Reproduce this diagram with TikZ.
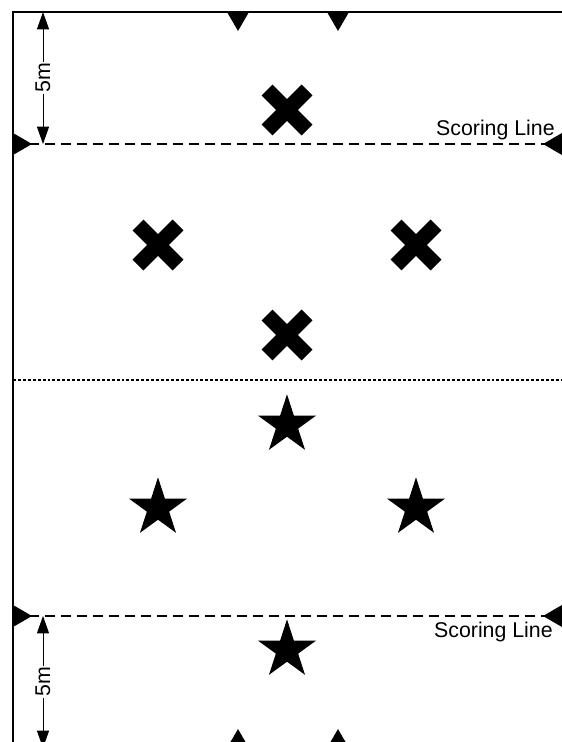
\documentclass[tikz,border=0pt]{standalone}
\usepackage{fontspec}
\setmainfont{Liberation Sans}
\usepackage{tikz}
\usetikzlibrary{positioning,arrows.meta,calc,shapes.geometric,shapes.misc}
\tikzset{
  boundary/.style={line width=2.1pt},
  scoreline/.style={line width=1.4pt,dash pattern=on 7.5pt off 4.5pt},
  halfline/.style={line width=0.9pt,dash pattern=on 2.2pt off 1.5pt},
  cone/.style={fill=black},
  xmark/.style={cross out,draw,line width=11.5pt,minimum size=30pt,inner sep=0pt,outer sep=0pt},
  starmark/.style={star,star points=5,star point ratio=2.618,fill,minimum size=46pt,inner sep=0pt},
  dimline/.style={{Triangle[length=13pt,width=9pt]}-{Triangle[length=13pt,width=9pt]},line width=0.75pt},
  dimlabel/.style={fill=white,inner sep=1pt,rotate=90,font=\fontsize{16pt}{19pt}\selectfont},
  scorelabel/.style={inner sep=0pt,font=\fontsize{16pt}{19pt}\selectfont},
}

\begin{document}
\begin{tikzpicture}[x=0.75pt,y=-0.75pt]
  \useasboundingbox (0,0) rectangle (561,742);
  % field edges (only the left and top ones are in view)
  \coordinate (tl) at (13,12);
  \coordinate (tr) at (562,12);
  \coordinate (bl) at (13,748);
  \draw[boundary] (bl) -- (tl) -- (tr);
  % scoring lines and the half-way line
  \coordinate (sA-w) at (13,144);
  \coordinate (sA-e) at (562,144);
  \coordinate (sB-w) at (13,616);
  \coordinate (sB-e) at (562,616);
  \coordinate (half-w) at (13,380);
  \coordinate (half-e) at (562,380);
  \draw[scoreline] (sA-w) -- (sA-e);
  \draw[scoreline] (sB-w) -- (sB-e);
  \draw[halfline] (half-w) -- (half-e);
  \node[scorelabel, anchor=base east] (scoreA) at (555,135) {Scoring Line};
  \node[scorelabel, anchor=base east] (scoreB) at (553,637) {Scoring Line};
  % markers on the edges
  \fill[cone] (227,12) -- ++(22,0) -- ++(-11,19) -- cycle;
  \fill[cone] (327,12) -- ++(22,0) -- ++(-11,19) -- cycle;
  \fill[cone] (227,748) -- ++(22,0) -- ++(-11,-19) -- cycle;
  \fill[cone] (327,748) -- ++(22,0) -- ++(-11,-19) -- cycle;
  \fill[cone] (13,133) -- ++(19,11) -- ++(-19,11) -- cycle;
  \fill[cone] (13,605) -- ++(19,11) -- ++(-19,11) -- cycle;
  \fill[cone] (562,133) -- ++(-19,11) -- ++(19,11) -- cycle;
  \fill[cone] (562,605) -- ++(-19,11) -- ++(19,11) -- cycle;
  % 5m dimensions
  \coordinate (dimA-top) at (43,12);
  \coordinate (dimA-bot) at (43,144);
  \coordinate (dimB-top) at (43,616);
  \coordinate (dimB-bot) at (43,748);
  \draw[dimline] (dimA-top) -- node[dimlabel] (lenA) {5m} (dimA-bot);
  \draw[dimline] (dimB-top) -- node[dimlabel] (lenB) {5m} (dimB-bot);
  % players of one side
  \node[xmark] (xA) at (287,110) {};
  \node[xmark] (xB) at (158,245) {};
  \node[xmark] (xC) at (416,245) {};
  \node[xmark] (xD) at (287,335) {};
  % players of the other side
  \node[starmark] (stA) at (287,425) {};
  \node[starmark] (stB) at (158,508) {};
  \node[starmark] (stC) at (416,508) {};
  \node[starmark] (stD) at (287,650) {};
\end{tikzpicture}
\end{document}
